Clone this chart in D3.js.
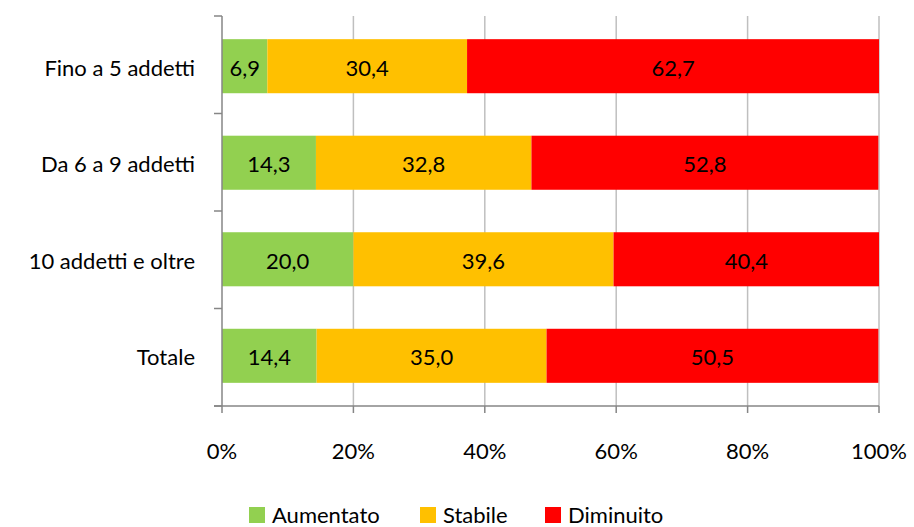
<!DOCTYPE html>
<html><head><meta charset="utf-8">
<script src="https://cdn.jsdelivr.net/npm/d3@7"></script>
<style>body{margin:0;background:#fff;} text{font-family:Lato, "Open Sans", sans-serif; fill:#000;}</style>
</head><body>
<svg id="c" width="914" height="527"></svg>
<script>
const categories = ["Fino a 5 addetti", "Da 6 a 9 addetti", "10 addetti e oltre", "Totale"];
const seriesNames = ["Aumentato", "Stabile", "Diminuito"];
const aumentato = [6.9, 14.3, 20.0, 14.4];
const stabile = [30.4, 32.8, 39.6, 35.0];
const diminuito = [62.7, 52.8, 40.4, 50.5];
const colors = ["#92D050", "#FFC000", "#FF0000"];
const xTicks = [0, 20, 40, 60, 80, 100];

const FS = 22;
const svg = d3.select("#c");
const x = d3.scaleLinear().domain([0, 100]).range([222, 879]);
const y = d3.scaleBand().domain(categories).range([16, 406]).paddingInner(0.44).paddingOuter(0.24);

const rows = categories.map((c, i) => ({cat: c, vals: [aumentato[i], stabile[i], diminuito[i]]}));

// gridlines
svg.append("g").selectAll("line").data(xTicks.slice(1)).join("line")
  .attr("x1", d => x(d)).attr("x2", d => x(d)).attr("y1", 16).attr("y2", 406)
  .attr("stroke", "#BFBFBF").attr("stroke-width", 1.5);

// bars
rows.forEach(r => {
  let acc = 0;
  r.vals.forEach((v, j) => {
    const x0 = acc, x1 = acc + v;
    acc = x1;
    svg.append("rect").attr("x", x(x0)).attr("width", x(x1) - x(x0))
      .attr("y", y(r.cat)).attr("height", y.bandwidth()).attr("fill", colors[j]);
    svg.append("text").attr("x", (x(x0) + x(x1)) / 2).attr("y", y(r.cat) + y.bandwidth() / 2 + 1)
      .attr("text-anchor", "middle").attr("dominant-baseline", "central")
      .attr("font-size", FS).text(v.toFixed(1).replace(".", ","));
  });
});

// y axis
const yAxis = svg.append("g");
yAxis.append("line").attr("x1", 222).attr("x2", 222).attr("y1", 16).attr("y2", 406)
  .attr("stroke", "#868686").attr("stroke-width", 1.5);
const bounds = [0, 1, 2, 3, 4].map(i => 16 + i * (390 / 4));
yAxis.selectAll("line.t").data(bounds).join("line").attr("class", "t")
  .attr("x1", 214).attr("x2", 222).attr("y1", d => d).attr("y2", d => d)
  .attr("stroke", "#868686").attr("stroke-width", 1.5);
yAxis.selectAll("text").data(categories).join("text")
  .attr("x", 195).attr("y", d => y(d) + y.bandwidth() / 2 + 1)
  .attr("text-anchor", "end").attr("dominant-baseline", "central")
  .attr("font-size", FS).text(d => d);

// x axis
const xAxis = svg.append("g");
xAxis.append("line").attr("x1", 214).attr("x2", 879).attr("y1", 406).attr("y2", 406)
  .attr("stroke", "#868686").attr("stroke-width", 1.5);
xAxis.selectAll("line.t").data(xTicks).join("line").attr("class", "t")
  .attr("x1", d => x(d)).attr("x2", d => x(d)).attr("y1", 406).attr("y2", 413)
  .attr("stroke", "#868686").attr("stroke-width", 1.5);
xAxis.selectAll("text").data(xTicks).join("text")
  .attr("x", d => x(d)).attr("y", 450).attr("text-anchor", "middle")
  .attr("dominant-baseline", "central").attr("font-size", FS).text(d => d + "%");

// legend
const legX = [249, 420, 545];
const leg = svg.append("g");
seriesNames.forEach((s, i) => {
  leg.append("rect").attr("x", legX[i]).attr("y", 507).attr("width", 16).attr("height", 16).attr("fill", colors[i]);
  leg.append("text").attr("x", legX[i] + 23).attr("y", 514).attr("dominant-baseline", "central")
    .attr("font-size", FS).text(s);
});
</script>
</body></html>
